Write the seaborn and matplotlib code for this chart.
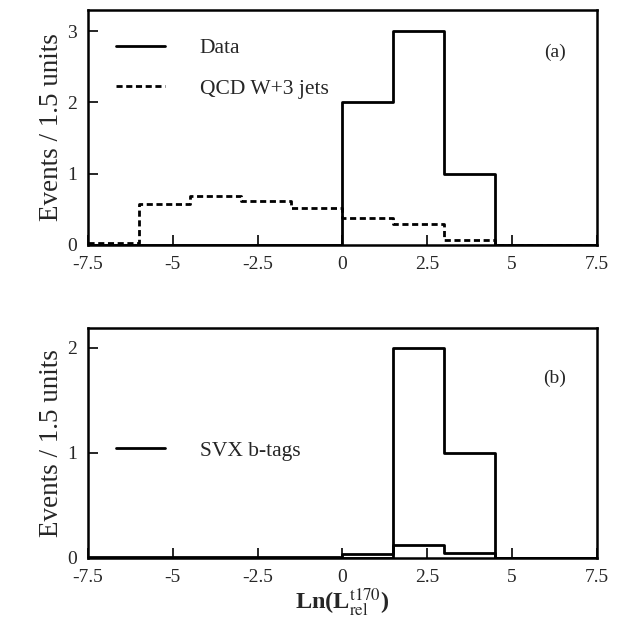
import numpy as np
import pandas as pd
import matplotlib
matplotlib.use("Agg")
import matplotlib.pyplot as plt
import seaborn as sns

# ---- data (bins of width 1.5 from -7.5 to 7.5) ----
bin_edges = [-7.5, -6.0, -4.5, -3.0, -1.5, 0.0, 1.5, 3.0, 4.5, 6.0, 7.5]
data_counts = [0, 0, 0, 0, 0, 2, 3, 1, 0, 0]
qcd_counts = [0.03, 0.58, 0.68, 0.62, 0.52, 0.38, 0.29, 0.07, 0, 0]
svx_counts = [0, 0, 0, 0, 0, 0, 2, 1, 0, 0]
svx_bkg_counts = [0.01, 0.01, 0.01, 0.01, 0.01, 0.04, 0.12, 0.05, 0, 0]
x_ticks = [-7.5, -5, -2.5, 0, 2.5, 5, 7.5]
x_tick_labels = ["-7.5", "-5", "-2.5", "0", "2.5", "5", "7.5"]

sns.set_style("ticks")
plt.rcParams["font.family"] = ["Liberation Serif", "DejaVu Serif"]
plt.rcParams["mathtext.fontset"] = "stix"
plt.rcParams["axes.unicode_minus"] = False

centers = [(a + b) / 2 for a, b in zip(bin_edges[:-1], bin_edges[1:])]
df = pd.DataFrame({"x": centers, "data": data_counts, "qcd": qcd_counts,
                   "svx": svx_counts, "svxb": svx_bkg_counts})

fig = plt.figure(figsize=(6.19, 6.26), dpi=100)
ax1 = fig.add_axes([0.142, 0.609, 0.822, 0.375])
ax2 = fig.add_axes([0.142, 0.109, 0.822, 0.367])

lw = 2.0
sns.histplot(data=df, x="x", weights="data", bins=bin_edges, element="step",
             fill=False, color="black", linewidth=lw, ax=ax1, label="Data")
sns.histplot(data=df, x="x", weights="qcd", bins=bin_edges, element="step",
             fill=False, color="black", linewidth=lw, linestyle=(0, (2.2, 1.3)),
             ax=ax1, label="QCD W+3 jets")
sns.histplot(data=df, x="x", weights="svx", bins=bin_edges, element="step",
             fill=False, color="black", linewidth=lw, ax=ax2, label="SVX b-tags")
sns.histplot(data=df, x="x", weights="svxb", bins=bin_edges, element="step",
             fill=False, color="black", linewidth=lw, ax=ax2, label="_nolegend_")

for ax, ymax, yt in [(ax1, 3.3, [0, 1, 2, 3]), (ax2, 2.19, [0, 1, 2])]:
    ax.set_xlim(-7.5, 7.5)
    ax.set_ylim(0, ymax)
    ax.set_xticks(x_ticks)
    ax.set_xticklabels(x_tick_labels)
    ax.set_yticks(yt)
    ax.set_yticklabels([str(v) for v in yt])
    ax.tick_params(direction="in", length=7, width=1.4, labelsize=14, pad=8)
    for s in ax.spines.values():
        s.set_visible(True)
        s.set_linewidth(1.8)
        s.set_color("black")
    ax.set_ylabel("Events / 1.5 units", fontsize=19.5, labelpad=2)
    ax.set_xlabel("")

leg1 = ax1.legend(loc="upper left", bbox_to_anchor=(0.055, 0.88), frameon=False,
                  fontsize=15.5, handlelength=2.3, handletextpad=1.6,
                  labelspacing=0.95, borderpad=0, borderaxespad=0)
leg2 = ax2.legend(loc="upper left", bbox_to_anchor=(0.055, 0.51), frameon=False,
                  fontsize=15.5, handlelength=2.3, handletextpad=1.6,
                  borderpad=0, borderaxespad=0)

ax1.text(0.918, 0.82, "(a)", transform=ax1.transAxes, fontsize=14, ha="center", va="center")
ax2.text(0.918, 0.78, "(b)", transform=ax2.transAxes, fontsize=14, ha="center", va="center")

ax2.set_xlabel(r"Ln(L$_{\mathrm{rel}}^{\mathrm{t170}}$)", fontsize=17.5, labelpad=1,
               fontweight="bold")

fig.savefig("out.png", dpi=100, facecolor="white")
